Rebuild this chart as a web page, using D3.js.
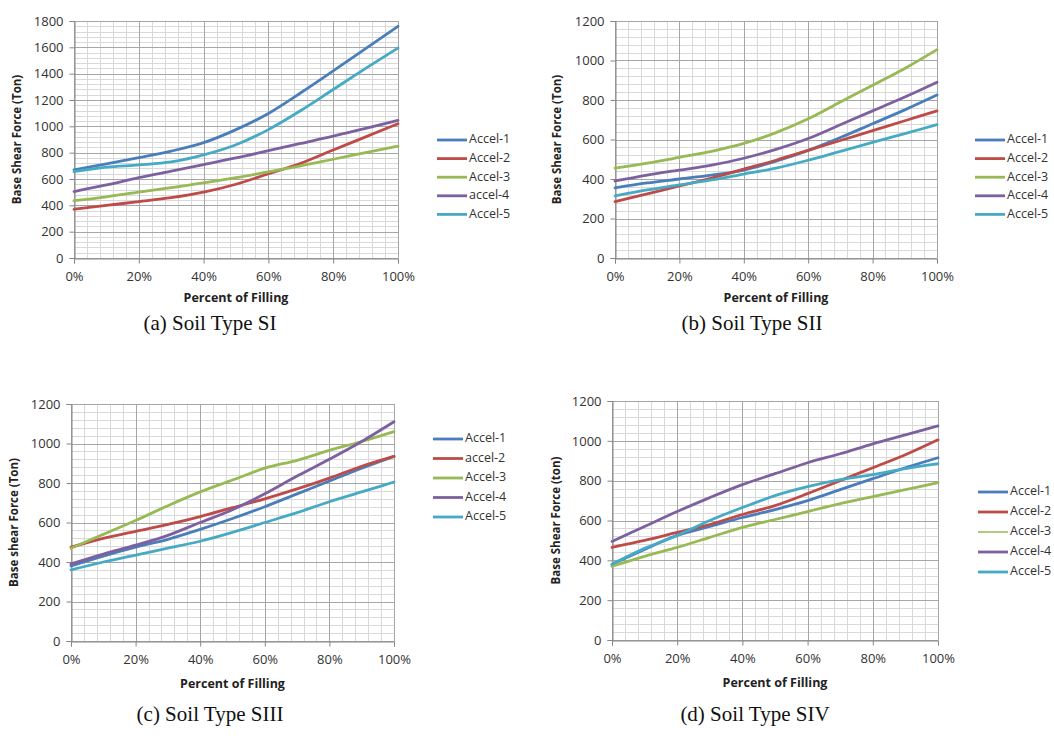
<!DOCTYPE html>
<html><head><meta charset="utf-8">
<script src="https://cdn.jsdelivr.net/npm/d3@7"></script>
<style>
body{margin:0;background:#fff;}
svg text{font-family:"Open Sans","Liberation Sans",sans-serif;}
</style></head>
<body><svg id="c" width="1054" height="740"></svg>
<script>
const fill = [0,10,20,30,40,50,60,70,80,90,100];

const panelA_names = ["Accel-1","Accel-2","Accel-3","accel-4","Accel-5"];
const panelA_acc1 = [670,715,762,812,876,975,1098,1255,1421,1590,1760];
const panelA_acc2 = [370,400,428,458,500,560,640,720,820,920,1020];
const panelA_acc3 = [435,465,500,535,570,610,655,700,750,800,850];
const panelA_acc4 = [505,555,610,660,710,760,815,870,925,985,1045];
const panelA_acc5 = [656,690,707,730,783,860,975,1120,1280,1440,1595];
const panelA_yTicks = [0,200,400,600,800,1000,1200,1400,1600,1800];

const panelB_names = ["Accel-1","Accel-2","Accel-3","Accel-4","Accel-5"];
const panelB_acc1 = [355,380,400,420,445,490,545,610,680,750,825];
const panelB_acc2 = [285,325,365,405,450,495,545,595,645,695,745];
const panelB_acc3 = [455,480,510,540,580,635,705,790,875,960,1055];
const panelB_acc4 = [390,420,445,470,505,550,605,675,745,815,890];
const panelB_acc5 = [315,345,370,395,425,455,495,540,585,630,675];
const panelB_yTicks = [0,200,400,600,800,1000,1200];

const panelC_names = ["Accel-1","accel-2","Accel-3","Accel-4","Accel-5"];
const panelC_acc1 = [380,430,475,515,565,620,680,745,810,875,935];
const panelC_acc2 = [475,520,555,590,630,675,720,770,825,885,935];
const panelC_acc3 = [470,540,610,685,755,815,875,915,965,1010,1060];
const panelC_acc4 = [390,440,485,535,600,665,745,835,920,1010,1110];
const panelC_acc5 = [360,400,435,470,505,550,600,650,705,755,805];
const panelC_yTicks = [0,200,400,600,800,1000,1200];

const panelD_names = ["Accel-1","Accel-2","Accel-3","Accel-4","Accel-5"];
const panelD_acc1 = [380,455,525,570,615,655,700,755,810,865,915];
const panelD_acc2 = [465,500,540,580,630,675,735,800,865,930,1005];
const panelD_acc3 = [370,420,465,515,565,605,645,685,720,755,790];
const panelD_acc4 = [495,570,645,715,780,835,890,935,985,1030,1075];
const panelD_acc5 = [380,460,525,600,665,725,770,805,830,860,885];
const panelD_yTicks = [0,200,400,600,800,1000,1200];

const xTicks = [0,20,40,60,80,100];
const colors = ["#4A7EBB","#BE4B48","#98B954","#7D60A0","#46AAC5"];

const captions = ["(a) Soil Type SI","(b) Soil Type SII","(c) Soil Type SIII","(d) Soil Type SIV"];
const yTitles = ["Base Shear Force (Ton)","Base Shear Force (Ton)","Base shear Force (Ton)","Base Shear Force (ton)"];
const xTitle = "Percent of Filling";

const panels = [
  {names:panelA_names, series:[panelA_acc1,panelA_acc2,panelA_acc3,panelA_acc4,panelA_acc5], yTicks:panelA_yTicks,
   x0:74,x1:398,y0:258,y1:21, ytx:18, lgx:437, lgy:140, lgdy:18.6, cap:[210,330], xt:302},
  {names:panelB_names, series:[panelB_acc1,panelB_acc2,panelB_acc3,panelB_acc4,panelB_acc5], yTicks:panelB_yTicks,
   x0:615,x1:937,y0:258,y1:21, ytx:558, lgx:975, lgy:140, lgdy:18.6, cap:[752,330], xt:302},
  {names:panelC_names, series:[panelC_acc1,panelC_acc2,panelC_acc3,panelC_acc4,panelC_acc5], yTicks:panelC_yTicks,
   x0:71,x1:394,y0:641,y1:404, ytx:15, lgx:433, lgy:439, lgdy:19.5, cap:[210,721], xt:688},
  {names:panelD_names, series:[panelD_acc1,panelD_acc2,panelD_acc3,panelD_acc4,panelD_acc5], yTicks:panelD_yTicks,
   x0:612,x1:938,y0:640,y1:401, ytx:557, lgx:978, lgy:492, lgdy:20, cap:[755,721], xt:687}
];

const svg = d3.select("#c");

panels.forEach((p,pi)=>{
  const ymax = d3.max(p.yTicks);
  const x = d3.scaleLinear().domain([0,100]).range([p.x0,p.x1]);
  const y = d3.scaleLinear().domain([0,ymax]).range([p.y0,p.y1]);
  const g = svg.append("g");
  const step = p.yTicks[1]-p.yTicks[0];
  const minorY = d3.range(0,ymax+0.001,step/5);
  const minorX = d3.range(0,100.001,4);
  g.selectAll(".mh").data(minorY).join("line")
    .attr("x1",p.x0).attr("x2",p.x1).attr("y1",d=>Math.round(y(d))+0.5).attr("y2",d=>Math.round(y(d))+0.5)
    .attr("stroke","#d9d9d9").attr("stroke-width",1);
  g.selectAll(".mv").data(minorX).join("line")
    .attr("y1",p.y0).attr("y2",p.y1).attr("x1",d=>Math.round(x(d))+0.5).attr("x2",d=>Math.round(x(d))+0.5)
    .attr("stroke","#d9d9d9").attr("stroke-width",1);
  g.selectAll(".Mh").data(p.yTicks).join("line")
    .attr("x1",p.x0).attr("x2",p.x1).attr("y1",d=>Math.round(y(d))+0.5).attr("y2",d=>Math.round(y(d))+0.5)
    .attr("stroke","#a6a6a6").attr("stroke-width",1);
  g.selectAll(".Mv").data(xTicks).join("line")
    .attr("y1",p.y0).attr("y2",p.y1).attr("x1",d=>Math.round(x(d))+0.5).attr("x2",d=>Math.round(x(d))+0.5)
    .attr("stroke","#a6a6a6").attr("stroke-width",1);
  const ya = d3.axisLeft(y).tickValues(p.yTicks).tickSize(5).tickPadding(6).tickFormat(d3.format("d"));
  const ax = g.append("g").attr("transform",`translate(${Math.round(p.x0)+0.5},0)`).call(ya);
  const xa = d3.axisBottom(x).tickValues(xTicks).tickSize(5).tickPadding(8).tickFormat(d=>d+"%");
  const bx = g.append("g").attr("transform",`translate(0,${Math.round(p.y0)+0.5})`).call(xa);
  [ax,bx].forEach(a=>{
    a.select(".domain").attr("stroke","#868686");
    a.selectAll(".tick line").attr("stroke","#868686");
    a.selectAll("text").attr("font-size",13).attr("fill","#333").style("font-family","'Open Sans',sans-serif");
  });
  g.append("text").attr("transform",`translate(${p.ytx},${(p.y0+p.y1)/2}) rotate(-90)`)
    .attr("text-anchor","middle").attr("dominant-baseline","middle")
    .attr("font-size",11.5).attr("font-weight","bold").attr("fill","#222").text(yTitles[pi]);
  g.append("text").attr("x",(p.x0+p.x1)/2).attr("y",p.xt).attr("text-anchor","middle")
    .attr("font-size",12.5).attr("font-weight","bold").attr("fill","#222").text(xTitle);
  const line = d3.line().x((d,i)=>x(fill[i])).y(d=>y(d)).curve(d3.curveMonotoneX);
  p.series.forEach((s,si)=>{
    g.append("path").datum(s).attr("d",line).attr("fill","none")
      .attr("stroke",colors[si]).attr("stroke-width",2.8).attr("stroke-linecap","round");
  });
  p.names.forEach((n,si)=>{
    const ly = p.lgy + si*p.lgdy;
    g.append("line").attr("x1",p.lgx).attr("x2",p.lgx+30).attr("y1",ly).attr("y2",ly)
      .attr("stroke",colors[si]).attr("stroke-width",(pi===3&&si===2)?1.5:2.8);
    g.append("text").attr("x",p.lgx+32).attr("y",ly).attr("dominant-baseline","middle")
      .attr("font-size",12.5).attr("fill","#333").text(n);
  });
  svg.append("text").attr("x",p.cap[0]).attr("y",p.cap[1]).attr("text-anchor","middle")
    .style("font-family","'Liberation Serif','Times New Roman',serif").attr("font-size",21).attr("fill","#111").text(captions[pi]);
});
</script></body></html>
